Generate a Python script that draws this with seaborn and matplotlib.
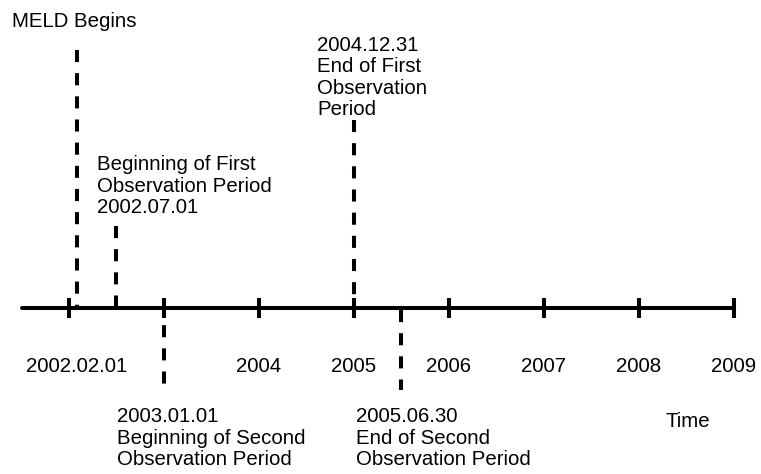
import matplotlib
matplotlib.use("Agg")
import matplotlib.pyplot as plt
import seaborn as sns
import pandas as pd

# timeline data
tick_years = [2002, 2003, 2004, 2005, 2006, 2007, 2008, 2009]
label_positions = ["2002-02-01", "2004-01-01", "2005-01-01", "2006-01-01",
                   "2007-01-01", "2008-01-01", "2009-01-01"]
label_texts = ["2002.02.01", "2004", "2005", "2006", "2007", "2008", "2009"]

event_dates = ["2002-02-01", "2002-07-01", "2003-01-01", "2004-12-31", "2005-06-30"]
event_texts = [
    "MELD Begins",
    "Beginning of First\nObservation Period\n2002.07.01",
    "2003.01.01\nBeginning of Second\nObservation Period",
    "2004.12.31\nEnd of First\nObservation\nPeriod",
    "2005.06.30\nEnd of Second\nObservation Period",
]


def to_year(d):
    d = pd.Timestamp(d)
    return d.year + (d.dayofyear - 1) / (366 if d.is_leap_year else 365)


# pixel helpers for layout (axis at y=308 px, 95 px per year, 2002 at x=69 px)
def px_x(p):
    return 2002 + (p - 69) / 95


def px_y(p):
    return 308 - p


sns.set_theme(style="white")
plt.rcParams["font.family"] = ["Liberation Sans", "DejaVu Sans"]
plt.rcParams["text.color"] = "black"

fig = plt.figure(figsize=(7.61, 4.74), dpi=100)
ax = fig.add_axes([0, 0, 1, 1])
ax.set_xlim(px_x(0), px_x(761))
ax.set_ylim(px_y(474), px_y(0))
ax.set_axis_off()

LW = 2.9  # ~4 px
FS = 14.7
dash = (3.0, 2.75)

# main time axis
axis_df = pd.DataFrame({"x": [px_x(22), tick_years[-1]], "y": [0, 0]})
sns.lineplot(data=axis_df, x="x", y="y", color="black", lw=LW, ax=ax)

# year ticks
ax.vlines(tick_years, px_y(298), px_y(318), color="black", lw=LW)

# tick labels
for pos, txt in zip(label_positions, label_texts):
    ax.text(to_year(pos), px_y(372), txt, ha="center", va="baseline",
            fontsize=FS, color="black")

# dashed event lines: (start px, end px)
spans = [(50, 308), (226, 308), (302, 390), (120, 327), (310, 390)]
for d, (a, b) in zip(event_dates, spans):
    x = to_year(d)
    df = pd.DataFrame({"x": [x, x], "y": [px_y(a), px_y(b)]})
    sns.lineplot(data=df, x="x", y="y", sort=False, estimator=None,
                 color="black", lw=LW, ax=ax, linestyle=(0, dash))

# event labels: (left px, last-line baseline px)
text_pos = [(12, 27), (97, 213), (117, 465), (317, 115), (356, 465)]
for txt, (lx, by) in zip(event_texts, text_pos):
    ax.text(px_x(lx), px_y(by), txt, ha="left", va="baseline", fontsize=FS,
            linespacing=1.15, color="black")

ax.text(px_x(665), px_y(427), "Time", ha="left", va="baseline", fontsize=FS,
        color="black")

fig.savefig("out.png", dpi=100)
